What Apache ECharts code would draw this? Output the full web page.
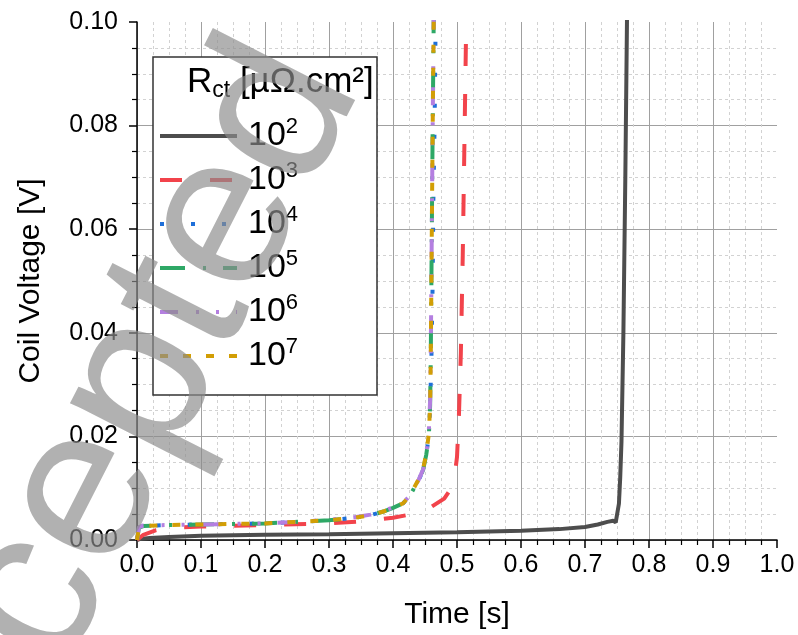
<!DOCTYPE html>
<html>
<head>
<meta charset="utf-8">
<script src="https://cdn.jsdelivr.net/npm/echarts@6/dist/echarts.min.js"></script>
<style>
html,body{margin:0;padding:0;background:#fff;}
#chart{width:798px;height:635px;}
</style>
</head>
<body>
<div id="chart"></div>
<script>
// ---- data ----
const seriesNames = ['2', '3', '4', '5', '6', '7'];   // exponents of R_ct = 10^n

const time2 = [0, 0.005, 0.02, 0.05, 0.1, 0.2, 0.3, 0.4, 0.5, 0.6, 0.66, 0.7, 0.72, 0.735, 0.744, 0.748, 0.751, 0.753, 0.755, 0.757, 0.760, 0.763, 0.766];
const volt2 = [0, 0.0002, 0.0004, 0.0006, 0.0008, 0.001, 0.0011, 0.0013, 0.0015, 0.0018, 0.0021, 0.0025, 0.003, 0.0035, 0.0037, 0.0034, 0.0034, 0.007, 0.012, 0.019, 0.04, 0.07, 0.105];

const time3 = [0, 0.01, 0.03, 0.05, 0.1, 0.2, 0.3, 0.35, 0.4, 0.43, 0.46, 0.48, 0.49, 0.496, 0.5, 0.503, 0.506, 0.509, 0.512, 0.515];
const volt3 = [0, 0.001, 0.0019, 0.0023, 0.0026, 0.0029, 0.0032, 0.0036, 0.0043, 0.005, 0.0064, 0.008, 0.0098, 0.012, 0.016, 0.024, 0.036, 0.055, 0.08, 0.105];

const time4 = [0, 0.003, 0.01, 0.05, 0.1, 0.15, 0.2, 0.25, 0.3, 0.34, 0.365, 0.385, 0.4, 0.416, 0.425, 0.432, 0.44, 0.447, 0.452, 0.456, 0.458, 0.460, 0.462, 0.463, 0.465, 0.467];
const volt4 = [0, 0.0025, 0.0027, 0.0029, 0.003, 0.0031, 0.0032, 0.0035, 0.0038, 0.0043, 0.0048, 0.0055, 0.0062, 0.0071, 0.0083, 0.0098, 0.0115, 0.0135, 0.0165, 0.02, 0.026, 0.035, 0.05, 0.065, 0.08, 0.105];

const time5 = [0, 0.003, 0.01, 0.05, 0.1, 0.15, 0.2, 0.25, 0.3, 0.34, 0.365, 0.385, 0.4, 0.416, 0.425, 0.432, 0.44, 0.447, 0.452, 0.456, 0.458, 0.459, 0.460, 0.461, 0.462, 0.464];
const volt5 = [0, 0.0024, 0.0027, 0.0029, 0.003, 0.0031, 0.0032, 0.0035, 0.0038, 0.0043, 0.0048, 0.0055, 0.0062, 0.0071, 0.0083, 0.0098, 0.0115, 0.0135, 0.0165, 0.02, 0.026, 0.035, 0.05, 0.065, 0.08, 0.105];

const time6 = [0, 0.003, 0.01, 0.05, 0.1, 0.15, 0.2, 0.25, 0.3, 0.34, 0.365, 0.385, 0.4, 0.416, 0.425, 0.432, 0.44, 0.447, 0.452, 0.456, 0.458, 0.459, 0.460, 0.461, 0.462, 0.464];
const volt6 = [0, 0.0025, 0.0028, 0.0029, 0.003, 0.0031, 0.0032, 0.0035, 0.0039, 0.0044, 0.0049, 0.0056, 0.0063, 0.0072, 0.0084, 0.0099, 0.0116, 0.0136, 0.0166, 0.021, 0.027, 0.036, 0.05, 0.066, 0.08, 0.105];

const time7 = [0, 0.003, 0.01, 0.05, 0.1, 0.15, 0.2, 0.25, 0.3, 0.34, 0.365, 0.385, 0.4, 0.416, 0.425, 0.432, 0.44, 0.447, 0.452, 0.456, 0.458, 0.459, 0.460, 0.461, 0.462, 0.464];
const volt7 = [0, 0.0023, 0.0027, 0.0029, 0.003, 0.0031, 0.0032, 0.0035, 0.0038, 0.0043, 0.0048, 0.0055, 0.0062, 0.0071, 0.0084, 0.0099, 0.0117, 0.0137, 0.0167, 0.0205, 0.026, 0.035, 0.05, 0.065, 0.08, 0.105];

const xTicks = [0, 0.1, 0.2, 0.3, 0.4, 0.5, 0.6, 0.7, 0.8, 0.9, 1.0];
const yTicks = [0, 0.02, 0.04, 0.06, 0.08, 0.10];

// ---- build ----
const FONT = 'Liberation Sans, Arial, sans-serif';
const pairs = (t, v) => t.map((x, i) => [x, v[i]]);
const seriesData = [pairs(time2, volt2), pairs(time3, volt3), pairs(time4, volt4),
                    pairs(time5, volt5), pairs(time6, volt6), pairs(time7, volt7)];
const colors = ['#4d4d4d', '#f2434b', '#1e6fd9', '#2ea866', '#b47fe0', '#d29e05'];
const dashes = ['solid', [22, 28], [4, 27], [25, 18, 3, 17], [18, 18, 3, 17, 3, 17], [8, 15]];

const chart = echarts.init(document.getElementById('chart'), null, {renderer: 'canvas'});

const series = seriesNames.map((n, i) => ({
  name: n,
  type: 'line',
  data: seriesData[i],
  showSymbol: false,
  symbol: 'none',
  clip: true,
  z: 5 + i,
  lineStyle: {color: colors[i], width: 4, type: dashes[i], cap: 'butt'},
  itemStyle: {color: colors[i]}
}));

const legendData = seriesNames.map((n, i) => ({
  name: n,
  itemStyle: {opacity: 0, borderWidth: 0},
  lineStyle: {color: colors[i], width: 4, type: dashes[i], cap: 'butt', opacity: 1}
}));

const option = {
  animation: false,
  textStyle: {fontFamily: FONT},
  grid: {left: 137, right: 21, top: 22, bottom: 95, containLabel: false},
  xAxis: {
    type: 'value', min: xTicks[0], max: xTicks[xTicks.length - 1], interval: 0.1,
    name: 'Time [s]', nameLocation: 'middle', nameGap: 60,
    nameTextStyle: {fontSize: 30, color: '#000', fontFamily: FONT},
    axisLine: {show: true, onZero: false, lineStyle: {color: '#000', width: 1.5}},
    axisTick: {show: true, inside: false, length: 8, lineStyle: {color: '#000', width: 1.5}},
    minorTick: {show: true, splitNumber: 4, length: 5, lineStyle: {color: '#000', width: 1.2}},
    splitLine: {show: true, showMaxLine: false, lineStyle: {color: '#a0a0a0', width: 1}},
    minorSplitLine: {show: true, lineStyle: {color: '#d2d2d2', width: 1, type: [3, 3]}},
    axisLabel: {fontSize: 25, color: '#000', margin: 13, formatter: v => v.toFixed(1)}
  },
  yAxis: {
    type: 'value', min: yTicks[0], max: yTicks[yTicks.length - 1], interval: 0.02,
    name: 'Coil Voltage [V]', nameLocation: 'middle', nameGap: 91, nameRotate: 90,
    nameTextStyle: {fontSize: 30, color: '#000', fontFamily: FONT},
    axisLine: {show: true, onZero: false, lineStyle: {color: '#000', width: 1.5}},
    axisTick: {show: true, inside: false, length: 8, lineStyle: {color: '#000', width: 1.5}},
    minorTick: {show: true, splitNumber: 4, length: 5, lineStyle: {color: '#000', width: 1.2}},
    splitLine: {show: true, showMaxLine: false, lineStyle: {color: '#a0a0a0', width: 1}},
    minorSplitLine: {show: true, lineStyle: {color: '#d2d2d2', width: 1, type: [3, 3]}},
    axisLabel: {fontSize: 25, color: '#000', margin: 19, formatter: v => v.toFixed(2)}
  },
  legend: {
    show: true, orient: 'vertical', left: 158, top: 116, z: 20, padding: 0,
    itemWidth: 77, itemHeight: 14, itemGap: 7,
    data: legendData,
    formatter: n => '{b|10}{s|' + n + '}',
    textStyle: {
      color: '#000', fontFamily: FONT,
      rich: {
        b: {fontSize: 34, lineHeight: 40, padding: [0, 0, 0, 6], fontFamily: FONT, color: '#000'},
        s: {fontSize: 22, lineHeight: 22, verticalAlign: 'top', fontFamily: FONT, color: '#000'}
      }
    }
  },
  graphic: [
    {type: 'rect', z: 15, shape: {x: 153, y: 57, width: 224, height: 338},
     style: {fill: '#fff', stroke: '#333', lineWidth: 1.5}},
    {type: 'text', z: 21, x: 187, y: 62,
     style: {text: '{R|R}{c|ct}{R| [µΩ.cm²]}', verticalAlign: 'top', align: 'left',
       rich: {
         R: {fontSize: 35, lineHeight: 40, fontFamily: FONT, fill: '#000', color: '#000'},
         c: {fontSize: 23, lineHeight: 23, verticalAlign: 'bottom', fontFamily: FONT, fill: '#000', color: '#000'}
       }}},
    {type: 'text', z: 50, x: -109, y: 877, rotation: 63 * Math.PI / 180,
     style: {text: 'Accepted', font: '220px ' + FONT, fill: 'rgba(140,140,140,0.68)',
       align: 'left', verticalAlign: 'middle'}}
  ],
  series: series
};
chart.setOption(option);
</script>
</body>
</html>
